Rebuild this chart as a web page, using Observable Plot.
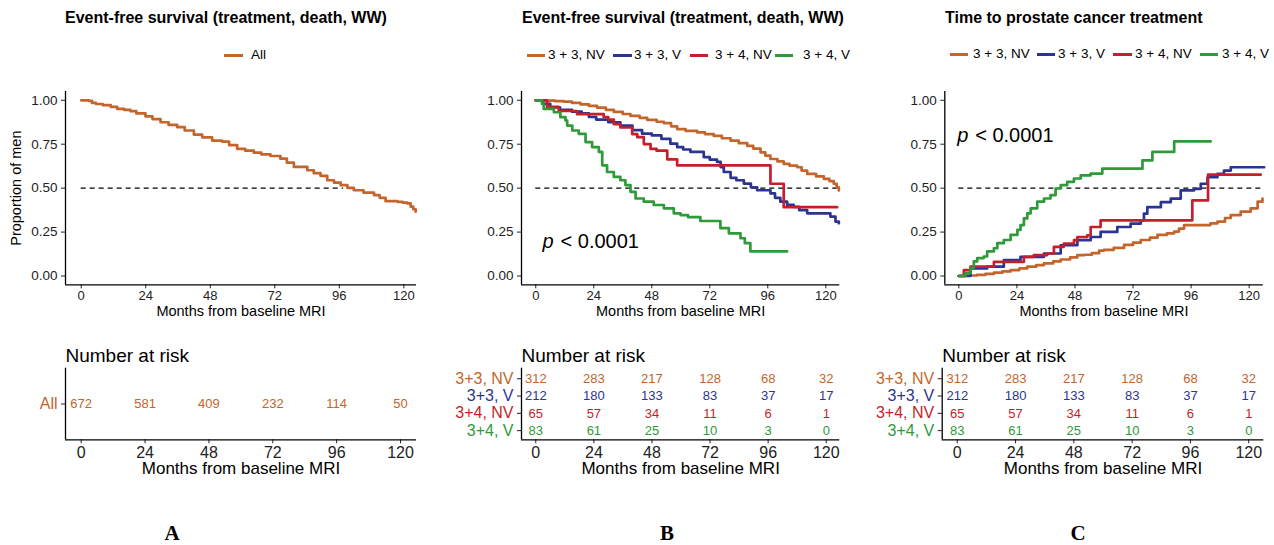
<!DOCTYPE html>
<html><head><meta charset="utf-8">
<script src="https://cdn.jsdelivr.net/npm/d3@7"></script>
<script src="https://cdn.jsdelivr.net/npm/@observablehq/plot@0.6"></script>
<style>
body{margin:0;background:#fff;}
#root{position:relative;width:1274px;height:545px;overflow:hidden;background:#fff;font-family:"Liberation Sans",Arial,Helvetica,sans-serif;color:#000;}
.abs{position:absolute;white-space:nowrap;line-height:1;}
.plot{position:absolute;}
</style></head><body><div id="root"></div>
<script>
// ---------------- data ----------------
const times = [0, 24, 48, 72, 96, 120];
const yTicks = [0, 0.25, 0.5, 0.75, 1];
const groups = ["3 + 3, NV", "3 + 3, V", "3 + 4, NV", "3 + 4, V"];
const tableGroups = ["3+3, NV", "3+3, V", "3+4, NV", "3+4, V"];
const colors = ["#C4652C", "#2B3490", "#C51F2B", "#2F9A3A"];
const allColor = "#C4652C";

const riskAll = [672, 581, 409, 232, 114, 50];
const risk33NV = [312, 283, 217, 128, 68, 32];
const risk33V = [212, 180, 133, 83, 37, 17];
const risk34NV = [65, 57, 34, 11, 6, 1];
const risk34V = [83, 61, 25, 10, 3, 0];

// Panel A: event-free survival, all men [month, proportion]
const survAll = [[0,1],[2.8,0.997],[4,0.985],[5.5,0.979],[8,0.972],[11,0.962],[13.4,0.951],[16,0.945],[18.3,0.938],[20.5,0.925],[23.9,0.909],[26.5,0.893],[29.5,0.875],[32.5,0.86],[35.7,0.847],[38.5,0.828],[41.9,0.805],[45,0.789],[48.7,0.771],[52.4,0.765],[55,0.745],[58,0.724],[61,0.713],[64.2,0.702],[67,0.692],[70.4,0.683],[74.1,0.668],[76.5,0.645],[79.1,0.621],[84.1,0.602],[86.5,0.585],[89,0.57],[91.5,0.545],[94,0.532],[96.5,0.517],[99,0.502],[101.4,0.488],[105,0.474],[108.9,0.46],[111,0.445],[113.2,0.426],[117.6,0.422],[119.5,0.418],[121.3,0.413],[122.5,0.395],[123.5,0.38],[124.4,0.366]];

// Panel B: event-free survival by group
const survB33NV = [[0,1],[4.7,0.998],[8,0.995],[11.6,0.992],[15,0.985],[18.5,0.977],[22,0.968],[25.4,0.958],[29,0.946],[32.3,0.934],[36,0.922],[39.2,0.911],[43,0.9],[46.1,0.889],[50,0.878],[53,0.87],[56,0.852],[58.5,0.836],[62,0.826],[66.8,0.817],[70,0.808],[73.6,0.798],[77,0.784],[80.6,0.77],[84,0.756],[87.5,0.741],[90,0.725],[93,0.704],[95,0.685],[97.1,0.666],[100,0.652],[102.6,0.638],[105,0.628],[108.2,0.619],[110,0.6],[112.3,0.581],[116,0.567],[119.2,0.553],[121.5,0.54],[123.3,0.525],[124.5,0.505],[125.4,0.487]];
const survB33V = [[0,1],[3,0.98],[6,0.96],[10,0.945],[15,0.935],[19,0.925],[22,0.905],[25,0.89],[30,0.875],[35,0.856],[40,0.83],[44,0.81],[48,0.8],[52,0.78],[55.7,0.753],[58.5,0.734],[61,0.72],[64,0.706],[69.5,0.677],[72,0.662],[75,0.649],[76.5,0.62],[77.8,0.592],[80.6,0.559],[83,0.545],[86.1,0.526],[89,0.505],[91.6,0.488],[97.1,0.47],[99,0.445],[101.2,0.423],[104,0.405],[106.7,0.394],[109,0.375],[112.3,0.357],[121.9,0.338],[124,0.31],[125.4,0.3]];
const survB34NV = [[0,1],[4.7,0.962],[9.5,0.939],[17.1,0.921],[28.1,0.905],[30,0.89],[32.3,0.864],[35,0.845],[39.9,0.808],[42,0.79],[44.7,0.751],[47.5,0.723],[50,0.713],[54.4,0.664],[58.5,0.63],[97.1,0.525],[102.6,0.392],[124.7,0.392]];
const survB34V = [[0,1],[2.6,0.979],[3.3,0.951],[7.5,0.932],[10.2,0.904],[12.3,0.885],[13,0.856],[15.1,0.828],[17.8,0.809],[20.6,0.762],[23.3,0.734],[26.1,0.706],[27.5,0.63],[29.5,0.592],[32.3,0.564],[35,0.545],[37.1,0.517],[39.2,0.479],[41.3,0.441],[44.7,0.423],[48.8,0.404],[53,0.385],[57.1,0.357],[59.9,0.347],[63,0.335],[68.1,0.313],[76.4,0.272],[79.9,0.243],[84.7,0.215],[86.5,0.187],[88.8,0.14],[104,0.14]];

// Panel C: cumulative incidence of treatment by group
const incC33NV = [[0,0],[3,0.003],[7.5,0.006],[11,0.012],[14.5,0.019],[18,0.026],[21.4,0.034],[25,0.043],[28.3,0.053],[32,0.062],[35.2,0.072],[39,0.083],[42.1,0.094],[46,0.106],[49,0.119],[52,0.121],[55,0.13],[58,0.145],[60,0.149],[64,0.16],[68.3,0.177],[72,0.19],[75.2,0.205],[79,0.218],[82.1,0.234],[86,0.243],[89,0.253],[91,0.27],[93.1,0.29],[101.4,0.29],[104,0.3],[106.9,0.309],[110,0.33],[112.4,0.347],[116.5,0.366],[120.6,0.385],[123.5,0.423],[125.5,0.441]];
const incC33V = [[0,0],[4.8,0.043],[11.7,0.053],[18.6,0.091],[25.5,0.109],[35.2,0.128],[42.1,0.175],[49,0.204],[54.5,0.222],[58.6,0.251],[65.5,0.279],[71,0.298],[75.2,0.317],[76.5,0.355],[77.9,0.392],[83.5,0.42],[87.6,0.44],[91.7,0.487],[97.2,0.496],[100,0.525],[102.8,0.562],[106.9,0.581],[109.6,0.6],[112.4,0.619],[126.2,0.619]];
const incC34NV = [[0,0],[2.1,0.034],[4.8,0.053],[14.5,0.081],[26.9,0.109],[31,0.119],[36.5,0.128],[39.3,0.166],[43.4,0.185],[47.6,0.204],[49,0.222],[53.1,0.232],[54.5,0.279],[58.6,0.317],[96.5,0.43],[103,0.577],[124.8,0.577]];
const incC34V = [[0,0],[2.8,0.017],[4.8,0.045],[6.2,0.083],[7.6,0.102],[10.3,0.111],[11.7,0.14],[14.5,0.158],[15.9,0.187],[18.6,0.205],[21.4,0.234],[24.2,0.262],[25.5,0.29],[26.9,0.328],[28.3,0.357],[29.7,0.385],[32.4,0.423],[35.2,0.441],[37.9,0.46],[40,0.498],[42.1,0.517],[44.8,0.536],[47.6,0.555],[50.4,0.573],[54.5,0.583],[59.3,0.611],[75.9,0.658],[80,0.706],[89,0.766],[104.1,0.766]];

// median reference segments [from, to] at proportion 0.5
const medianA = [0, 97.6];
const medianB = [0, 125.5];
const medianC = [0, 126];

// ---------------- layout helpers ----------------
const FONT = '"Liberation Sans", Arial, Helvetica, sans-serif';
const root = document.getElementById("root");

function html(text, x, y, css) {
  const d = document.createElement("div");
  d.className = "abs";
  d.textContent = text;
  d.style.left = x + "px";
  d.style.top = y + "px";
  d.style.transform = "translateY(-50%)";
  Object.assign(d.style, css || {});
  root.appendChild(d);
  return d;
}
function swatch(x1, x2, y, color) {
  const d = document.createElement("div");
  d.className = "abs";
  Object.assign(d.style, {left: x1 + "px", top: (y - 1.5) + "px", width: (x2 - x1) + "px", height: "3px", background: color});
  root.appendChild(d);
}
function place(svg, left, top) {
  const w = document.createElement("div");
  w.className = "plot";
  w.style.left = left + "px";
  w.style.top = top + "px";
  w.appendChild(svg);
  root.appendChild(w);
}

function kmPlot(cfg) {
  const top = 70, height = 255;
  const marks = [
    Plot.ruleY([{y: 0.5, x1: cfg.median[0], x2: cfg.median[1]}], {y: "y", x1: "x1", x2: "x2", stroke: "#000", strokeWidth: 1.2, strokeDasharray: "5,4"}),
    ...cfg.series.map(s => Plot.line(s.data, {x: d => d[0], y: d => d[1], curve: "step-after", stroke: s.color, strokeWidth: 2.7})),
    Plot.axisX({ticks: times, tickSize: 4, tickPadding: 2, fontSize: 13, label: null}),
    Plot.axisY({ticks: yTicks, tickFormat: d3.format(".2f"), tickSize: 4, tickPadding: 4, fontSize: 13.5, label: null}),
    Plot.ruleX([cfg.xDomain[0]], {stroke: "#000", strokeWidth: 1.3}),
    Plot.ruleY([-0.05], {stroke: "#000", strokeWidth: 1.3}),
    Plot.text(["Months from baseline MRI"], {frameAnchor: "bottom", dy: 31, fontSize: 14.5, fill: "#000"})
  ];
  if (cfg.yLabel) marks.push(Plot.text([cfg.yLabel], {frameAnchor: "left", textAnchor: "middle", rotate: -90, dx: -49, fontSize: 14.5, fill: "#000"}));
  if (cfg.p) {
    marks.push(Plot.text(["p"], {x: cfg.p[0], y: cfg.p[1], fontStyle: "italic", fontSize: 20, textAnchor: "start", fill: "#000"}));
    marks.push(Plot.text(["< 0.0001"], {x: cfg.p[0], y: cfg.p[1], dx: 18, fontSize: 20, textAnchor: "start", fill: "#000"}));
  }
  const svg = Plot.plot({
    width: cfg.width, height,
    marginLeft: cfg.mLeft, marginRight: cfg.mRight, marginTop: 21, marginBottom: 40.7,
    x: {domain: cfg.xDomain},
    y: {domain: [-0.05, 1.05]},
    style: {fontFamily: FONT, fontSize: "13px", color: "#222", background: "transparent", overflow: "visible"},
    marks
  });
  place(svg, cfg.left, top);
}

function riskPlot(cfg) {
  const top = 330, height = 160;
  const n = cfg.rows.length;
  const yDomain = n === 1 ? [1, -1] : [n - 1 + 0.53, -0.61];
  const cells = [];
  cfg.rows.forEach((r, i) => r.values.forEach((v, j) => cells.push({i, t: times[j], n: v, color: r.color})));
  const rowData = cfg.rows.map((r, i) => ({i, label: r.label, color: r.color}));
  const plotW = cfg.width - cfg.mLeft - cfg.mRight;
  const unit = (cfg.xDomain[1] - cfg.xDomain[0]) / plotW;
  const svg = Plot.plot({
    width: cfg.width, height,
    marginLeft: cfg.mLeft, marginRight: cfg.mRight, marginTop: 37.7, marginBottom: 50.7,
    x: {domain: cfg.xDomain},
    y: {domain: yDomain, axis: null},
    style: {fontFamily: FONT, fontSize: "13px", color: "#222", background: "transparent", overflow: "visible"},
    marks: [
      Plot.text(cells, {x: "t", y: "i", text: d => String(d.n), fill: "color", fontSize: 13}),
      Plot.text(rowData, {frameAnchor: "left", y: "i", text: "label", fill: "color", textAnchor: "end", dx: -8, fontSize: 16}),
      Plot.ruleY(rowData, {y: "i", x1: cfg.xDomain[0], x2: cfg.xDomain[0] - 4 * unit, stroke: "#222", strokeWidth: 1}),
      Plot.axisX({ticks: times, tickSize: 4, tickPadding: 3, fontSize: 16, label: null}),
      Plot.ruleX([cfg.xDomain[0]], {stroke: "#000", strokeWidth: 1.3}),
      Plot.ruleY([yDomain[0]], {stroke: "#000", strokeWidth: 1.3}),
      Plot.text(["Number at risk"], {frameAnchor: "top-left", textAnchor: "start", dy: -19.4, fontSize: 19, fill: "#000"}),
      Plot.text(["Months from baseline MRI"], {frameAnchor: "bottom", dy: 34, fontSize: 17, fill: "#000"})
    ]
  });
  place(svg, cfg.left, top);
}

// ---------------- titles & legends ----------------
const titleCss = {fontWeight: "bold", fontSize: "16px"};
html("Event-free survival (treatment, death, WW)", 65, 18, titleCss);
html("Event-free survival (treatment, death, WW)", 522, 18, titleCss);
html("Time to prostate cancer treatment", 945, 18, titleCss);

const legCss = {fontSize: "13.5px"};
swatch(224, 243, 55, allColor); html("All", 251, 55, legCss);
const legB = [[527, 545, 548], [613, 632, 634], [690, 708, 715], [775, 793, 803]];
legB.forEach((p, k) => { swatch(p[0], p[1], 55, colors[k]); html(groups[k], p[2], 55, legCss); });
const legC = [[950, 968, 973], [1037, 1055, 1058], [1113, 1132, 1135], [1200, 1218, 1222]];
legC.forEach((p, k) => { swatch(p[0], p[1], 54, colors[k]); html(groups[k], p[2], 54, legCss); });

// ---------------- plots ----------------
kmPlot({left: 0, width: 430, mLeft: 65, mRight: 14, xDomain: [-5.84, 124.7], median: medianA,
  series: [{data: survAll, color: allColor}], yLabel: "Proportion of men"});
kmPlot({left: 430, width: 430, mLeft: 91, mRight: 20.7, xDomain: [-5.9, 125.8], median: medianB,
  series: [survB33NV, survB33V, survB34NV, survB34V].map((d, k) => ({data: d, color: colors[k]})), p: [2.8, 0.194]});
kmPlot({left: 860, width: 414, mLeft: 84.3, mRight: 11.3, xDomain: [-5.8, 125.8], median: medianC,
  series: [incC33NV, incC33V, incC34NV, incC34V].map((d, k) => ({data: d, color: colors[k]})), p: [-0.7, 0.798]});

riskPlot({left: 0, width: 430, mLeft: 65, mRight: 14, xDomain: [-5.9, 126],
  rows: [{label: "All", color: allColor, values: riskAll}]});
const tableRows = [risk33NV, risk33V, risk34NV, risk34V].map((v, k) => ({label: tableGroups[k], color: colors[k], values: v}));
riskPlot({left: 430, width: 430, mLeft: 91, mRight: 20.7, xDomain: [-5.9, 125.6], rows: tableRows});
riskPlot({left: 860, width: 414, mLeft: 81.7, mRight: 10.7, xDomain: [-6.2, 126.2], rows: tableRows});

// panel letters
const letterCss = {fontFamily: '"Liberation Serif", "Times New Roman", serif', fontWeight: "bold", fontSize: "21px", transform: "translate(-50%,-50%)"};
html("A", 172, 533, letterCss);
html("B", 667, 533, letterCss);
html("C", 1078, 533, letterCss);
</script></body></html>
